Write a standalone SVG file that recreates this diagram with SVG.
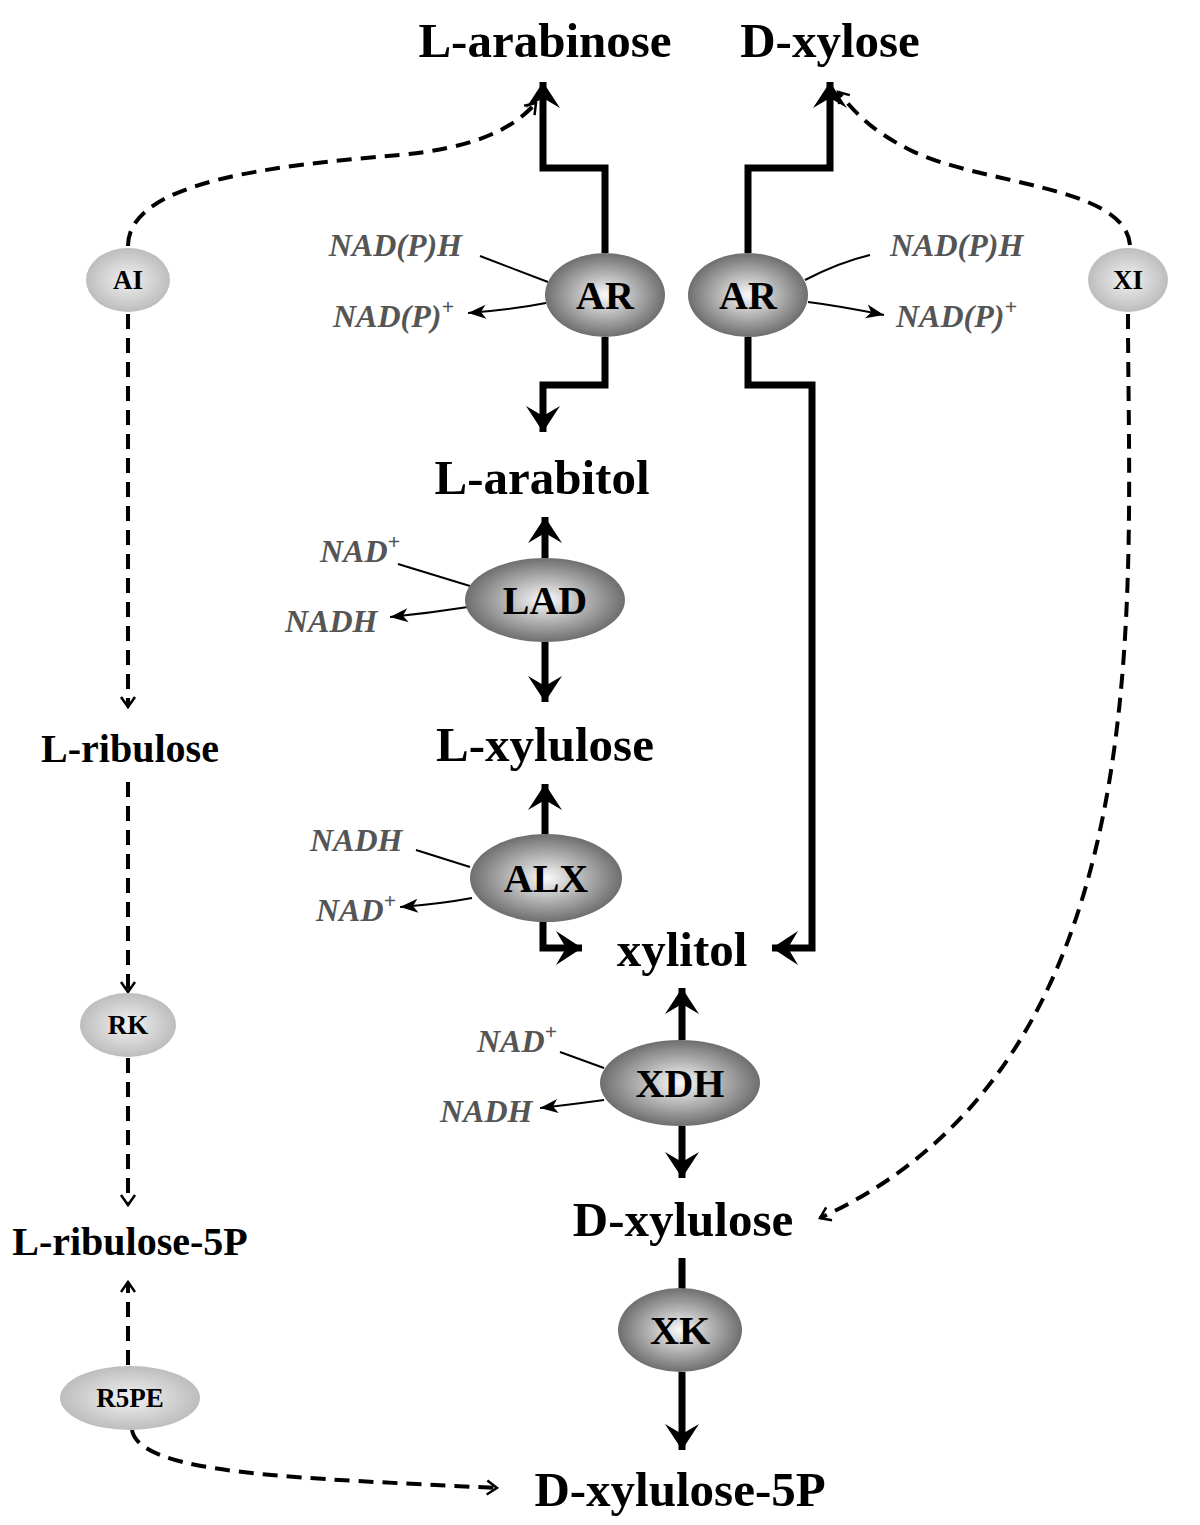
<svg xmlns="http://www.w3.org/2000/svg" width="1200" height="1525" viewBox="0 0 1200 1525">
<style>
.t{font-family:"Liberation Serif",serif;font-weight:bold;fill:#000;text-anchor:middle}
.c{font-family:"Liberation Serif",serif;font-weight:bold;font-style:italic;fill:#555;font-size:32px}
.e{font-family:"Liberation Serif",serif;font-weight:bold;fill:#000;text-anchor:middle;font-size:40px}
.s{font-family:"Liberation Serif",serif;font-weight:bold;fill:#000;text-anchor:middle;font-size:27px}
.thick{fill:none;stroke:#000;stroke-width:7;marker-end:url(#big)}
.plain{fill:none;stroke:#000;stroke-width:7}
.dash{fill:none;stroke:#000;stroke-width:4;stroke-dasharray:15 9;marker-end:url(#small)}
.thin{fill:none;stroke:#000;stroke-width:2}
.thinA{fill:none;stroke:#000;stroke-width:2;marker-end:url(#mid)}
</style>
<defs>
<radialGradient id="gB" cx="0.5" cy="0.5" r="0.5"><stop offset="0" stop-color="#fafafa"/><stop offset="1" stop-color="#6e6e6e"/></radialGradient>
<radialGradient id="gS" cx="0.5" cy="0.5" r="0.5"><stop offset="0" stop-color="#f2f2f2"/><stop offset="1" stop-color="#bdbdbd"/></radialGradient>
<marker id="big" markerUnits="userSpaceOnUse" markerWidth="60" markerHeight="60" viewBox="-30 -30 60 60" orient="auto" refX="0" refY="0"><path d="M0,0 L-26,-17 L-16,0 L-26,17 Z" fill="#000"/></marker>
<marker id="mid" markerUnits="userSpaceOnUse" markerWidth="40" markerHeight="40" viewBox="-20 -20 40 40" orient="auto"><path d="M0,0 L-18,-7 L-13,0 L-18,7 Z" fill="#000"/></marker>
<marker id="small" markerUnits="userSpaceOnUse" markerWidth="30" markerHeight="30" viewBox="-15 -15 30 30" orient="auto"><path d="M-10,-7 L0,0 L-10,7" fill="none" stroke="#000" stroke-width="2.5"/></marker>
</defs>
<g id="connectors">
<path class="thick" d="M605,253 L605,168 L543,168 L543,82"/>
<path class="thick" d="M605,337 L605,385 L543,385 L543,432"/>
<path class="thick" d="M748,253 L748,168 L830,168 L830,82"/>
<path class="thick" d="M748,337 L748,385 L812,385 L812,948 L772,948"/>
<path class="thick" d="M545,558 L545,517"/>
<path class="thick" d="M545,642 L545,702"/>
<path class="thick" d="M545,834 L545,784"/>
<path class="thick" d="M543,922 L543,948 L582,948"/>
<path class="thick" d="M682,1040 L682,988"/>
<path class="thick" d="M682,1126 L682,1178"/>
<path class="plain" d="M682,1258 L682,1290"/>
<path class="thick" d="M682,1372 L682,1450"/>
<path class="thin" d="M480,256 L548,282"/>
<path class="thinA" d="M546,303 Q510,310 468,313"/>
<path class="thin" d="M805,280 Q840,262 870,255"/>
<path class="thinA" d="M808,302 Q840,306 884,315"/>
<path class="thin" d="M398,564 L470,586"/>
<path class="thinA" d="M468,607 Q430,613 390,617"/>
<path class="thin" d="M416,850 L470,867"/>
<path class="thinA" d="M472,898 Q440,904 400,907"/>
<path class="thin" d="M560,1052 L604,1068"/>
<path class="thinA" d="M604,1100 Q575,1104 540,1108"/>
<path class="dash" d="M128,246 C128,180 280,165 400,155 C470,148 510,132 536,103"/>
<path class="dash" d="M128,314 L128,707"/>
<path class="dash" d="M128,782 L128,992"/>
<path class="dash" d="M128,1058 L128,1205"/>
<path class="dash" d="M128,1365 L128,1282"/>
<path class="dash" d="M132,1430 C140,1475 300,1478 497,1488"/>
<path class="dash" d="M1130,245 C1125,185 980,185 910,150 C870,130 855,112 838,92"/>
<path class="dash" d="M1128,314 C1128,600 1165,1060 820,1218"/>
</g>
<g id="labels">
<text class="t" x="545" y="57" font-size="49">L-arabinose</text>
<text class="t" x="830" y="57" font-size="49">D-xylose</text>
<text class="t" x="542" y="494" font-size="49">L-arabitol</text>
<text class="t" x="545" y="761" font-size="49">L-xylulose</text>
<text class="t" x="682" y="966" font-size="49">xylitol</text>
<text class="t" x="683" y="1236" font-size="49">D-xylulose</text>
<text class="t" x="680" y="1506" font-size="49">D-xylulose-5P</text>
<text class="t" x="130" y="762" font-size="40">L-ribulose</text>
<text class="t" x="130" y="1255" font-size="40">L-ribulose-5P</text>
<text class="c" x="462" y="256" text-anchor="end">NAD(P)H</text>
<text class="c" x="333" y="327">NAD(P)<tspan dy="-13" font-size="22">+</tspan></text>
<text class="c" x="890" y="256">NAD(P)H</text>
<text class="c" x="896" y="327">NAD(P)<tspan dy="-13" font-size="22">+</tspan></text>
<text class="c" x="320" y="562">NAD<tspan dy="-13" font-size="22">+</tspan></text>
<text class="c" x="285" y="632">NADH</text>
<text class="c" x="310" y="851">NADH</text>
<text class="c" x="316" y="921">NAD<tspan dy="-13" font-size="22">+</tspan></text>
<text class="c" x="477" y="1052">NAD<tspan dy="-13" font-size="22">+</tspan></text>
<text class="c" x="440" y="1122">NADH</text>
</g>
<g id="AR1"><ellipse cx="605" cy="295" rx="60" ry="42" fill="url(#gB)"/><text class="e" x="605" y="309">AR</text></g>
<g id="AR2"><ellipse cx="748" cy="295" rx="60" ry="42" fill="url(#gB)"/><text class="e" x="748" y="309">AR</text></g>
<g id="LAD"><ellipse cx="545" cy="600" rx="80" ry="42" fill="url(#gB)"/><text class="e" x="545" y="614">LAD</text></g>
<g id="ALX"><ellipse cx="546" cy="878" rx="76" ry="44" fill="url(#gB)"/><text class="e" x="546" y="892">ALX</text></g>
<g id="XDH"><ellipse cx="680" cy="1083" rx="80" ry="43" fill="url(#gB)"/><text class="e" x="680" y="1097">XDH</text></g>
<g id="XK"><ellipse cx="680" cy="1330" rx="62" ry="42" fill="url(#gB)"/><text class="e" x="680" y="1344">XK</text></g>
<g id="AI"><ellipse cx="128" cy="280" rx="42" ry="32" fill="url(#gS)"/><text class="s" x="128" y="289">AI</text></g>
<g id="XI"><ellipse cx="1128" cy="280" rx="40" ry="32" fill="url(#gS)"/><text class="s" x="1128" y="289">XI</text></g>
<g id="RK"><ellipse cx="128" cy="1025" rx="48" ry="32" fill="url(#gS)"/><text class="s" x="128" y="1034">RK</text></g>
<g id="R5PE"><ellipse cx="130" cy="1398" rx="70" ry="32" fill="url(#gS)"/><text class="s" x="130" y="1407">R5PE</text></g>
</svg>
